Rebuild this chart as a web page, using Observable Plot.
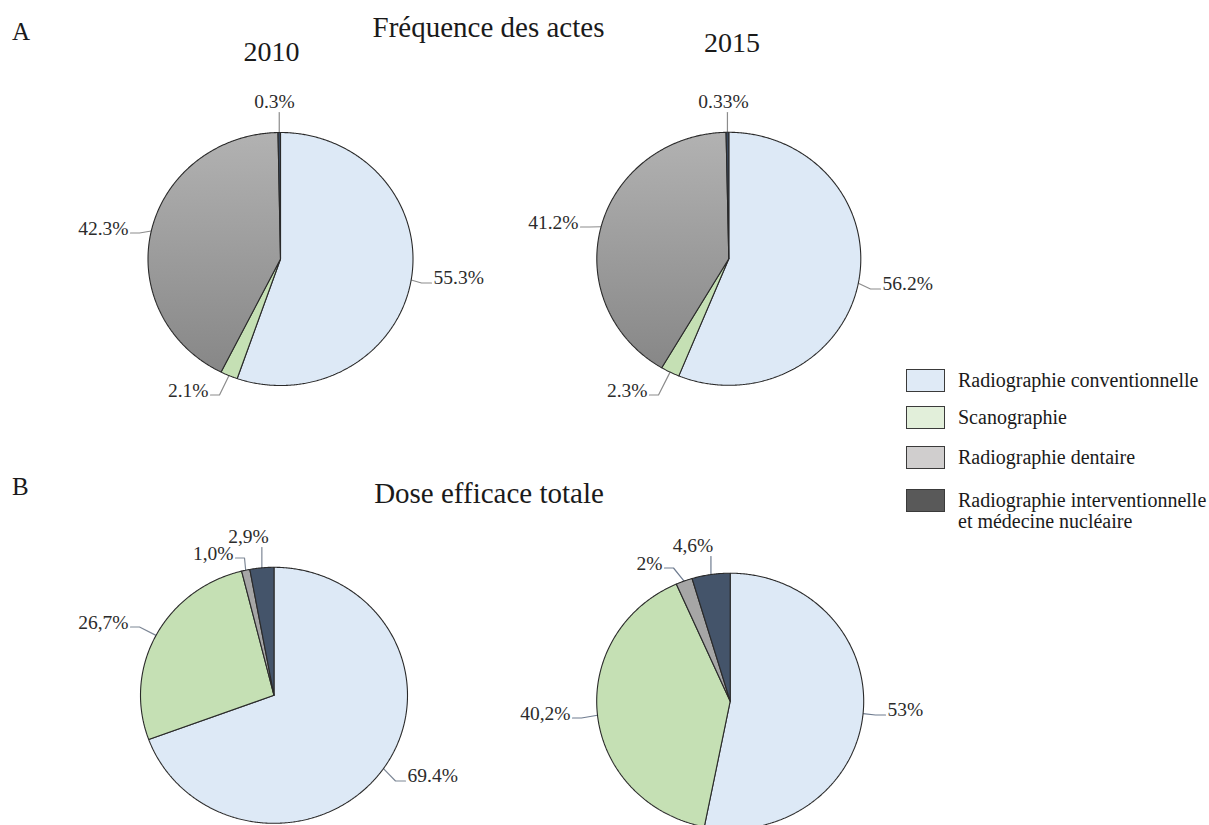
<!DOCTYPE html>
<html><head><meta charset="utf-8">
<script src="https://cdn.jsdelivr.net/npm/d3@7"></script>
<script src="https://cdn.jsdelivr.net/npm/@observablehq/plot@0.6"></script>
<style>
html,body{margin:0;padding:0;background:#fff;overflow:hidden;}
#wrap{position:relative;width:1209px;height:825px;font-family:"Liberation Serif","Times New Roman",serif;color:#1a1a1a;}
#wrap svg{position:absolute;left:0;top:0;}
#wrap svg text{font-family:"Liberation Serif","Times New Roman",serif !important;}
.t{position:absolute;white-space:nowrap;line-height:1;transform:translate(-50%,-50%);font-family:"Liberation Serif",serif;}
.tl{position:absolute;white-space:nowrap;line-height:1;transform:translate(0,-50%);font-family:"Liberation Serif",serif;}
.box{position:absolute;width:37px;height:21px;border:1.5px solid #3a3a3a;}
.leg{position:absolute;white-space:nowrap;font-size:20px;line-height:21px;color:#1a1a1a;font-family:"Liberation Serif",serif;}
</style></head>
<body><div id="wrap"></div>
<script>
// ---- data ----
const categories = ["Radiographie conventionnelle", "Scanographie", "Radiographie dentaire", "Radiographie interventionnelle et médecine nucléaire"];
const years = ["2010", "2015"];
const panelTitles = ["Fréquence des actes", "Dose efficace totale"];
const freq2010 = [55.3, 2.1, 42.3, 0.3];
const freq2015 = [56.2, 2.3, 41.2, 0.33];
const dose2010 = [69.4, 26.7, 1.0, 2.9];
const dose2015 = [53, 40.2, 2, 4.6];
const freqLabels2010 = ["55.3%", "2.1%", "42.3%", "0.3%"];
const freqLabels2015 = ["56.2%", "2.3%", "41.2%", "0.33%"];
const doseLabels2010 = ["69.4%", "26,7%", "1,0%", "2,9%"];
const doseLabels2015 = ["53%", "40,2%", "2%", "4,6%"];

// ---- styles / layout ----
const serif = "Liberation Serif";
const fillsA = ["#dde9f6", "#c5e0b4", "url(#dentalGrad)", "#3b4a5f"];
const fillsB = ["#dde9f6", "#c5e0b4", "#a6a6a6", "#44546a"];
const legendFills = ["#dfeaf6", "#e2efda", "#d0cece", "#595959"];
const pies = [
  {values: freq2010, labels: freqLabels2010, fills: fillsA, cx: 280, cy: 258.5, rx: 132.5, ry: 126.5, lead: "#8c8c8c",
   lab: [[153, 18.5, "r"], [-72, 131.5, "l"], [-152, -30.5, "l"], [-6, -157.5, "t"]]},
  {values: freq2015, labels: freqLabels2015, fills: fillsA, cx: 728.3, cy: 258.3, rx: 132, ry: 126.5, lead: "#8c8c8c",
   lab: [[153.7, 24.7, "r"], [-81.3, 131.7, "l"], [-150.3, -36.3, "l"], [-5.3, -157.3, "t"]]},
  {values: dose2010, labels: doseLabels2010, fills: fillsB, cx: 273.5, cy: 694.8, rx: 133.5, ry: 128, lead: "#7d8796",
   lab: [[133.5, 80.2, "r"], [-145.5, -72.8, "l"], [-40.5, -141.8, "l"], [-25.5, -158.8, "t"]]},
  {values: dose2015, labels: doseLabels2015, fills: fillsB, cx: 729.7, cy: 700.7, rx: 133.5, ry: 128, lead: "#6f7c90",
   lab: [[157.3, 8.3, "r"], [-159.7, 12.3, "l"], [-67.7, -137.7, "l"], [-37.2, -155.7, "t"]]}
];

// ---- build geometry from data ----
const slices = [], leaders = [], texts = [];
const pieGen = d3.pie().sort(null).value(d => d);
pies.forEach((p, pi) => {
  const arcs = pieGen(p.values);
  const pt = a => ({x: p.cx + p.rx * Math.sin(a), y: p.cy - p.ry * Math.cos(a)});
  arcs.forEach((s, si) => {
    const id = `p${pi}s${si}`;
    const fill = p.fills[si];
    const n = Math.max(2, Math.ceil((s.endAngle - s.startAngle) / (Math.PI / 360)));
    slices.push({id, x: p.cx, y: p.cy, fill});
    for (let i = 0; i <= n; i++) {
      const a = s.startAngle + (s.endAngle - s.startAngle) * i / n;
      slices.push({id, ...pt(a), fill});
    }
    slices.push({id, x: p.cx, y: p.cy, fill});
    const [dx, dy, side] = p.lab[si];
    const tx = p.cx + dx, ty = p.cy + dy;
    texts.push({x: tx, y: ty, text: p.labels[si], side});
    const edge = pt((s.startAngle + s.endAngle) / 2);
    const lid = `l${pi}_${si}`;
    let path;
    if (side === "t") path = [edge, {x: edge.x, y: ty + 11}];
    else if (side === "r") { const e = {x: tx - 2, y: ty + 5.5}; path = [edge, {x: e.x - 10, y: e.y}, e]; }
    else { const e = {x: tx + 2, y: ty + 4.5}; path = [edge, {x: e.x + 9, y: e.y}, e]; }
    path.forEach(q => leaders.push({id: lid, x: q.x, y: q.y, color: p.lead}));
  });
});

const textOpts = {x: "x", y: "y", text: "text", fontSize: 19.5, fontFamily: serif, fill: "#2b2b2b"};
const svg = Plot.plot({
  width: 1209, height: 825, margin: 0,
  x: {domain: [0, 1209], axis: null},
  y: {domain: [0, 825], reverse: true, axis: null},
  color: {type: "identity"},
  style: {fontFamily: serif, background: "transparent", overflow: "hidden"},
  marks: [
    Plot.line(leaders, {x: "x", y: "y", z: "id", stroke: "color", strokeWidth: 1.2, curve: "linear"}),
    Plot.line(slices, {x: "x", y: "y", z: "id", fill: "fill", stroke: "#2a2a2a", strokeWidth: 1.1, curve: "linear", strokeLinejoin: "miter"}),
    Plot.text(texts.filter(d => d.side === "r"), {...textOpts, textAnchor: "start"}),
    Plot.text(texts.filter(d => d.side === "l"), {...textOpts, textAnchor: "end"}),
    Plot.text(texts.filter(d => d.side === "t"), {...textOpts, textAnchor: "middle"})
  ]
});
svg.setAttribute("font-family", serif);
d3.select(svg).insert("defs", ":first-child").html(
  '<linearGradient id="dentalGrad" x1="0" y1="0" x2="0" y2="1"><stop offset="0" stop-color="#b2b2b2"/><stop offset="1" stop-color="#878787"/></linearGradient>');

const wrap = document.getElementById("wrap");
wrap.appendChild(svg);

function addText(txt, x, y, size, cls) {
  const d = document.createElement("div");
  d.className = cls; d.textContent = txt;
  d.style.left = x + "px"; d.style.top = y + "px"; d.style.fontSize = size + "px";
  wrap.appendChild(d);
}
addText("A", 12, 31, 25, "tl");
addText("B", 12, 486, 25, "tl");
addText(panelTitles[0], 488.5, 27, 29, "t");
addText(panelTitles[1], 489, 493, 29, "t");
addText(years[0], 271.5, 52, 28, "t");
addText(years[1], 732, 43, 28, "t");

// legend
const legTops = [369, 406, 446, 489];
categories.forEach((c, i) => {
  const b = document.createElement("div");
  b.className = "box"; b.style.left = "906px"; b.style.top = legTops[i] + "px"; b.style.background = legendFills[i];
  wrap.appendChild(b);
  const t = document.createElement("div");
  t.className = "leg"; t.style.left = "958px"; t.style.top = (legTops[i] + 1) + "px";
  if (i === 3) { t.appendChild(document.createTextNode("Radiographie interventionnelle")); t.appendChild(document.createElement("br")); t.appendChild(document.createTextNode("et médecine nucléaire")); }
  else t.textContent = c;
  wrap.appendChild(t);
});
</script>
</body></html>
